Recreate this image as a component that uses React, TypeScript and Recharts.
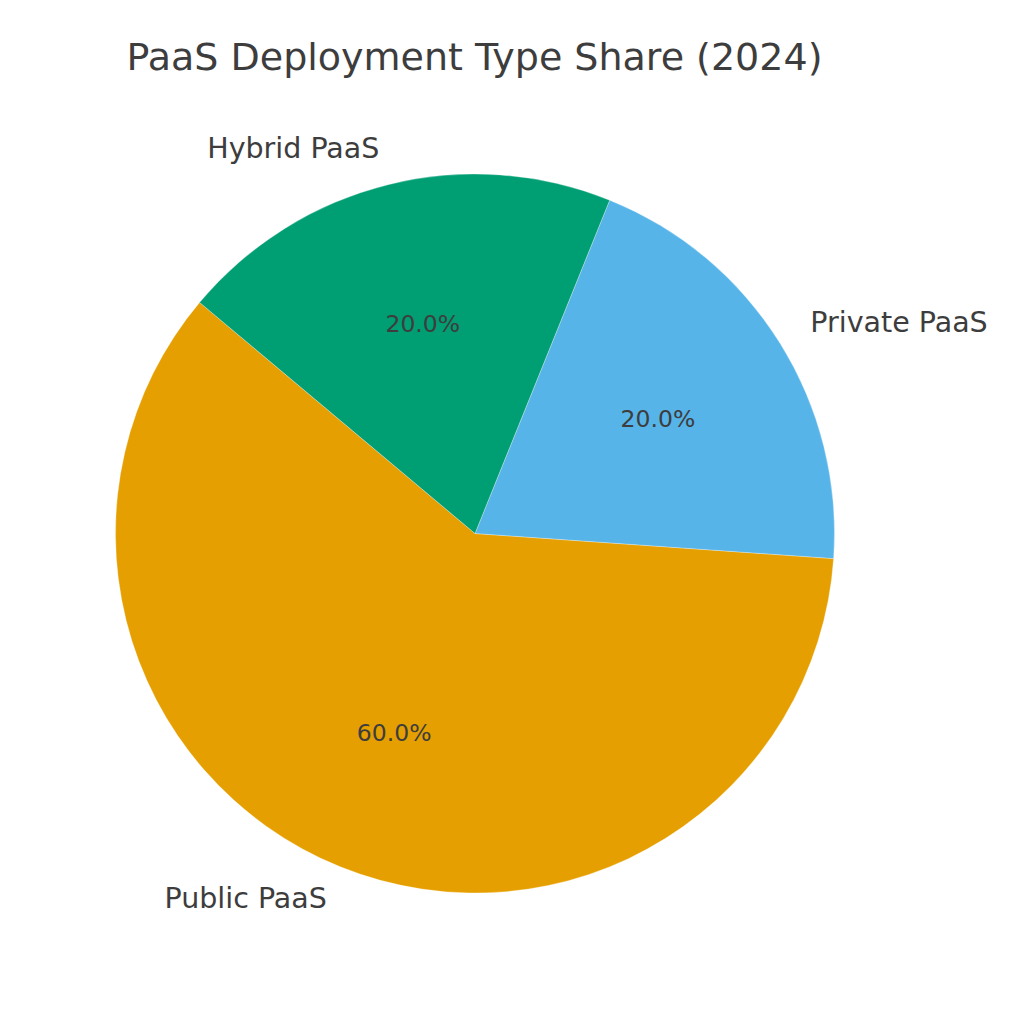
import React from "react";
import { PieChart, Pie, Cell } from "recharts";

const categories = ["Public PaaS", "Private PaaS", "Hybrid PaaS"];
const shares = [60, 20, 20];
const colors = ["#E69F00", "#56B4E9", "#009E73"];
const title = "PaaS Deployment Type Share (2024)";

const data = categories.map((name, i) => ({ name, value: shares[i] }));
const FONT = "'DejaVu Sans', sans-serif";
const TEXT = "#3d3d3d";
const RAD = Math.PI / 180;

const renderLabel = (p: any) => {
  const { cx, cy, midAngle, outerRadius, name, value } = p;
  const c = Math.cos(midAngle * RAD);
  const s = Math.sin(midAngle * RAD);
  const lx = cx + outerRadius * 1.1 * c;
  const ly = cy - outerRadius * 1.1 * s;
  const px = cx + outerRadius * 0.6 * c;
  const py = cy - outerRadius * 0.6 * s;
  return (
    <g>
      <text x={lx} y={ly - 1.5} textAnchor={c >= 0 ? "start" : "end"} dominantBaseline="central" fontSize={28.5} fontFamily={FONT} fill={TEXT}>
        {name}
      </text>
      <text x={px} y={py} textAnchor="middle" dominantBaseline="central" fontSize={23.5} fontFamily={FONT} fill={TEXT}>
        {value.toFixed(1)}%
      </text>
    </g>
  );
};

export default function App() {
  return (
    <div style={{ position: "absolute", left: 0, top: 0, width: 1024, height: 1024, background: "#fff" }}>
      <PieChart width={1024} height={1024} margin={{ top: 0, right: 0, bottom: 0, left: 0 }}>
        <text x={474.5} y={57} textAnchor="middle" dominantBaseline="central" fontSize={38} fontFamily={FONT} fill={TEXT}>
          {title}
        </text>
        <Pie
          data={data}
          dataKey="value"
          nameKey="name"
          cx={475}
          cy={533.5}
          innerRadius={0}
          outerRadius={359.5}
          startAngle={140}
          endAngle={500}
          stroke="#ffffff"
          strokeWidth={0.3}
          label={renderLabel}
          labelLine={false}
          isAnimationActive={false}
        >
          {categories.map((c, i) => (
            <Cell key={c} fill={colors[i]} />
          ))}
        </Pie>
      </PieChart>
    </div>
  );
}
